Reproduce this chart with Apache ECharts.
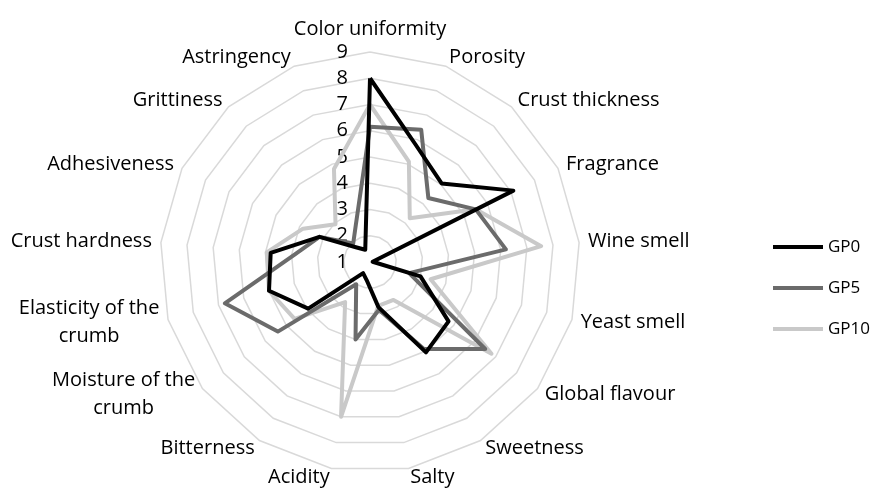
<!DOCTYPE html>
<html>
<head>
<meta charset="utf-8">
<script src="https://cdn.jsdelivr.net/npm/echarts@6/dist/echarts.min.js"></script>
<style>
html,body{margin:0;padding:0;background:#fff;}
#main{width:873px;height:488px;}
</style>
</head>
<body>
<div id="main"></div>
<script>
// attributes, clockwise from the top
var attributes = ['Color uniformity', 'Porosity', 'Crust thickness', 'Fragrance', 'Wine smell',
	'Yeast smell', 'Global flavour', 'Sweetness', 'Salty', 'Acidity', 'Bitterness',
	'Moisture of the\ncrumb', 'Elasticity of the\ncrumb', 'Crust hardness', 'Adhesiveness',
	'Grittiness', 'Astringency'];
var gp0 = [8, 5.8, 5.05, 7.1, 1.1, 3.0, 4.75, 5.05, 2.75, 1.7, 1.5, 3.95, 5.0, 4.8, 3.15, 1.75, 1.5];
var gp5 = [6.15, 6.4, 4.3, 5.5, 6.2, 2.55, 6.5, 4.9, 2.85, 4.0, 2.0, 5.4, 6.75, 3.9, 3.15, 1.95, 2.5];
var gp10 = [7.0, 5.1, 3.25, 5.5, 7.55, 3.4, 6.8, 2.7, 2.7, 7.0, 2.8, 4.6, 5.0, 4.95, 3.85, 2.95, 4.8];
var seriesNames = ['GP0', 'GP5', 'GP10'];
var lineColors = ['#000000', '#6b6b6b', '#c9c9c9'];
var scaleMin = 1, scaleMax = 9;

// echarts radar goes counter-clockwise, so flip everything after the first axis
function flip(arr) {
	return [arr[0]].concat(arr.slice(1).reverse());
}

var indicator = flip(attributes).map(function (n, i) {
	var ind = {name: n, min: scaleMin, max: scaleMax};
	if (i == 0) {
		ind.axisLabel = {show: true};
	}
	return ind;
});

var values = [gp0, gp5, gp10];
var series = values.map(function (v, i) {
	return {
		name: seriesNames[i],
		type: 'radar',
		z: 4 - i,
		symbol: 'none',
		lineStyle: {color: lineColors[i], width: 4},
		itemStyle: {color: lineColors[i]},
		data: [{name: seriesNames[i], value: flip(v)}]
	};
});

var font = 'Open Sans';
var chart = echarts.init(document.getElementById('main'));
chart.setOption({
	backgroundColor: '#ffffff',
	animation: false,
	textStyle: {fontFamily: font},
	legend: {
		orient: 'vertical',
		left: 768,
		top: 232,
		itemWidth: 50,
		itemHeight: 4,
		itemGap: 21,
		icon: 'rect',
		data: seriesNames,
		textStyle: {fontSize: 17, color: '#000', lineHeight: 20, fontFamily: font}
	},
	radar: {
		center: [370, 262],
		radius: 210,
		startAngle: 90,
		shape: 'polygon',
		splitNumber: 8,
		indicator: indicator,
		axisName: {
			color: '#000',
			fontSize: 20,
			fontFamily: font,
			formatter: function (name) {
				return name.split('\n').map(function (s) { return '{c|' + s + '}'; }).join('\n');
			},
			rich: {c: {align: 'center', fontSize: 20, lineHeight: 28, color: '#000', fontFamily: font}}
		},
		nameGap: 9,
		axisLine: {show: false},
		axisTick: {show: false},
		axisLabel: {show: false, color: '#000', fontSize: 20, margin: 22, fontFamily: font},
		splitArea: {show: false},
		splitLine: {lineStyle: {color: '#d9d9d9', width: 1.5}}
	},
	series: series
});
</script>
</body>
</html>
